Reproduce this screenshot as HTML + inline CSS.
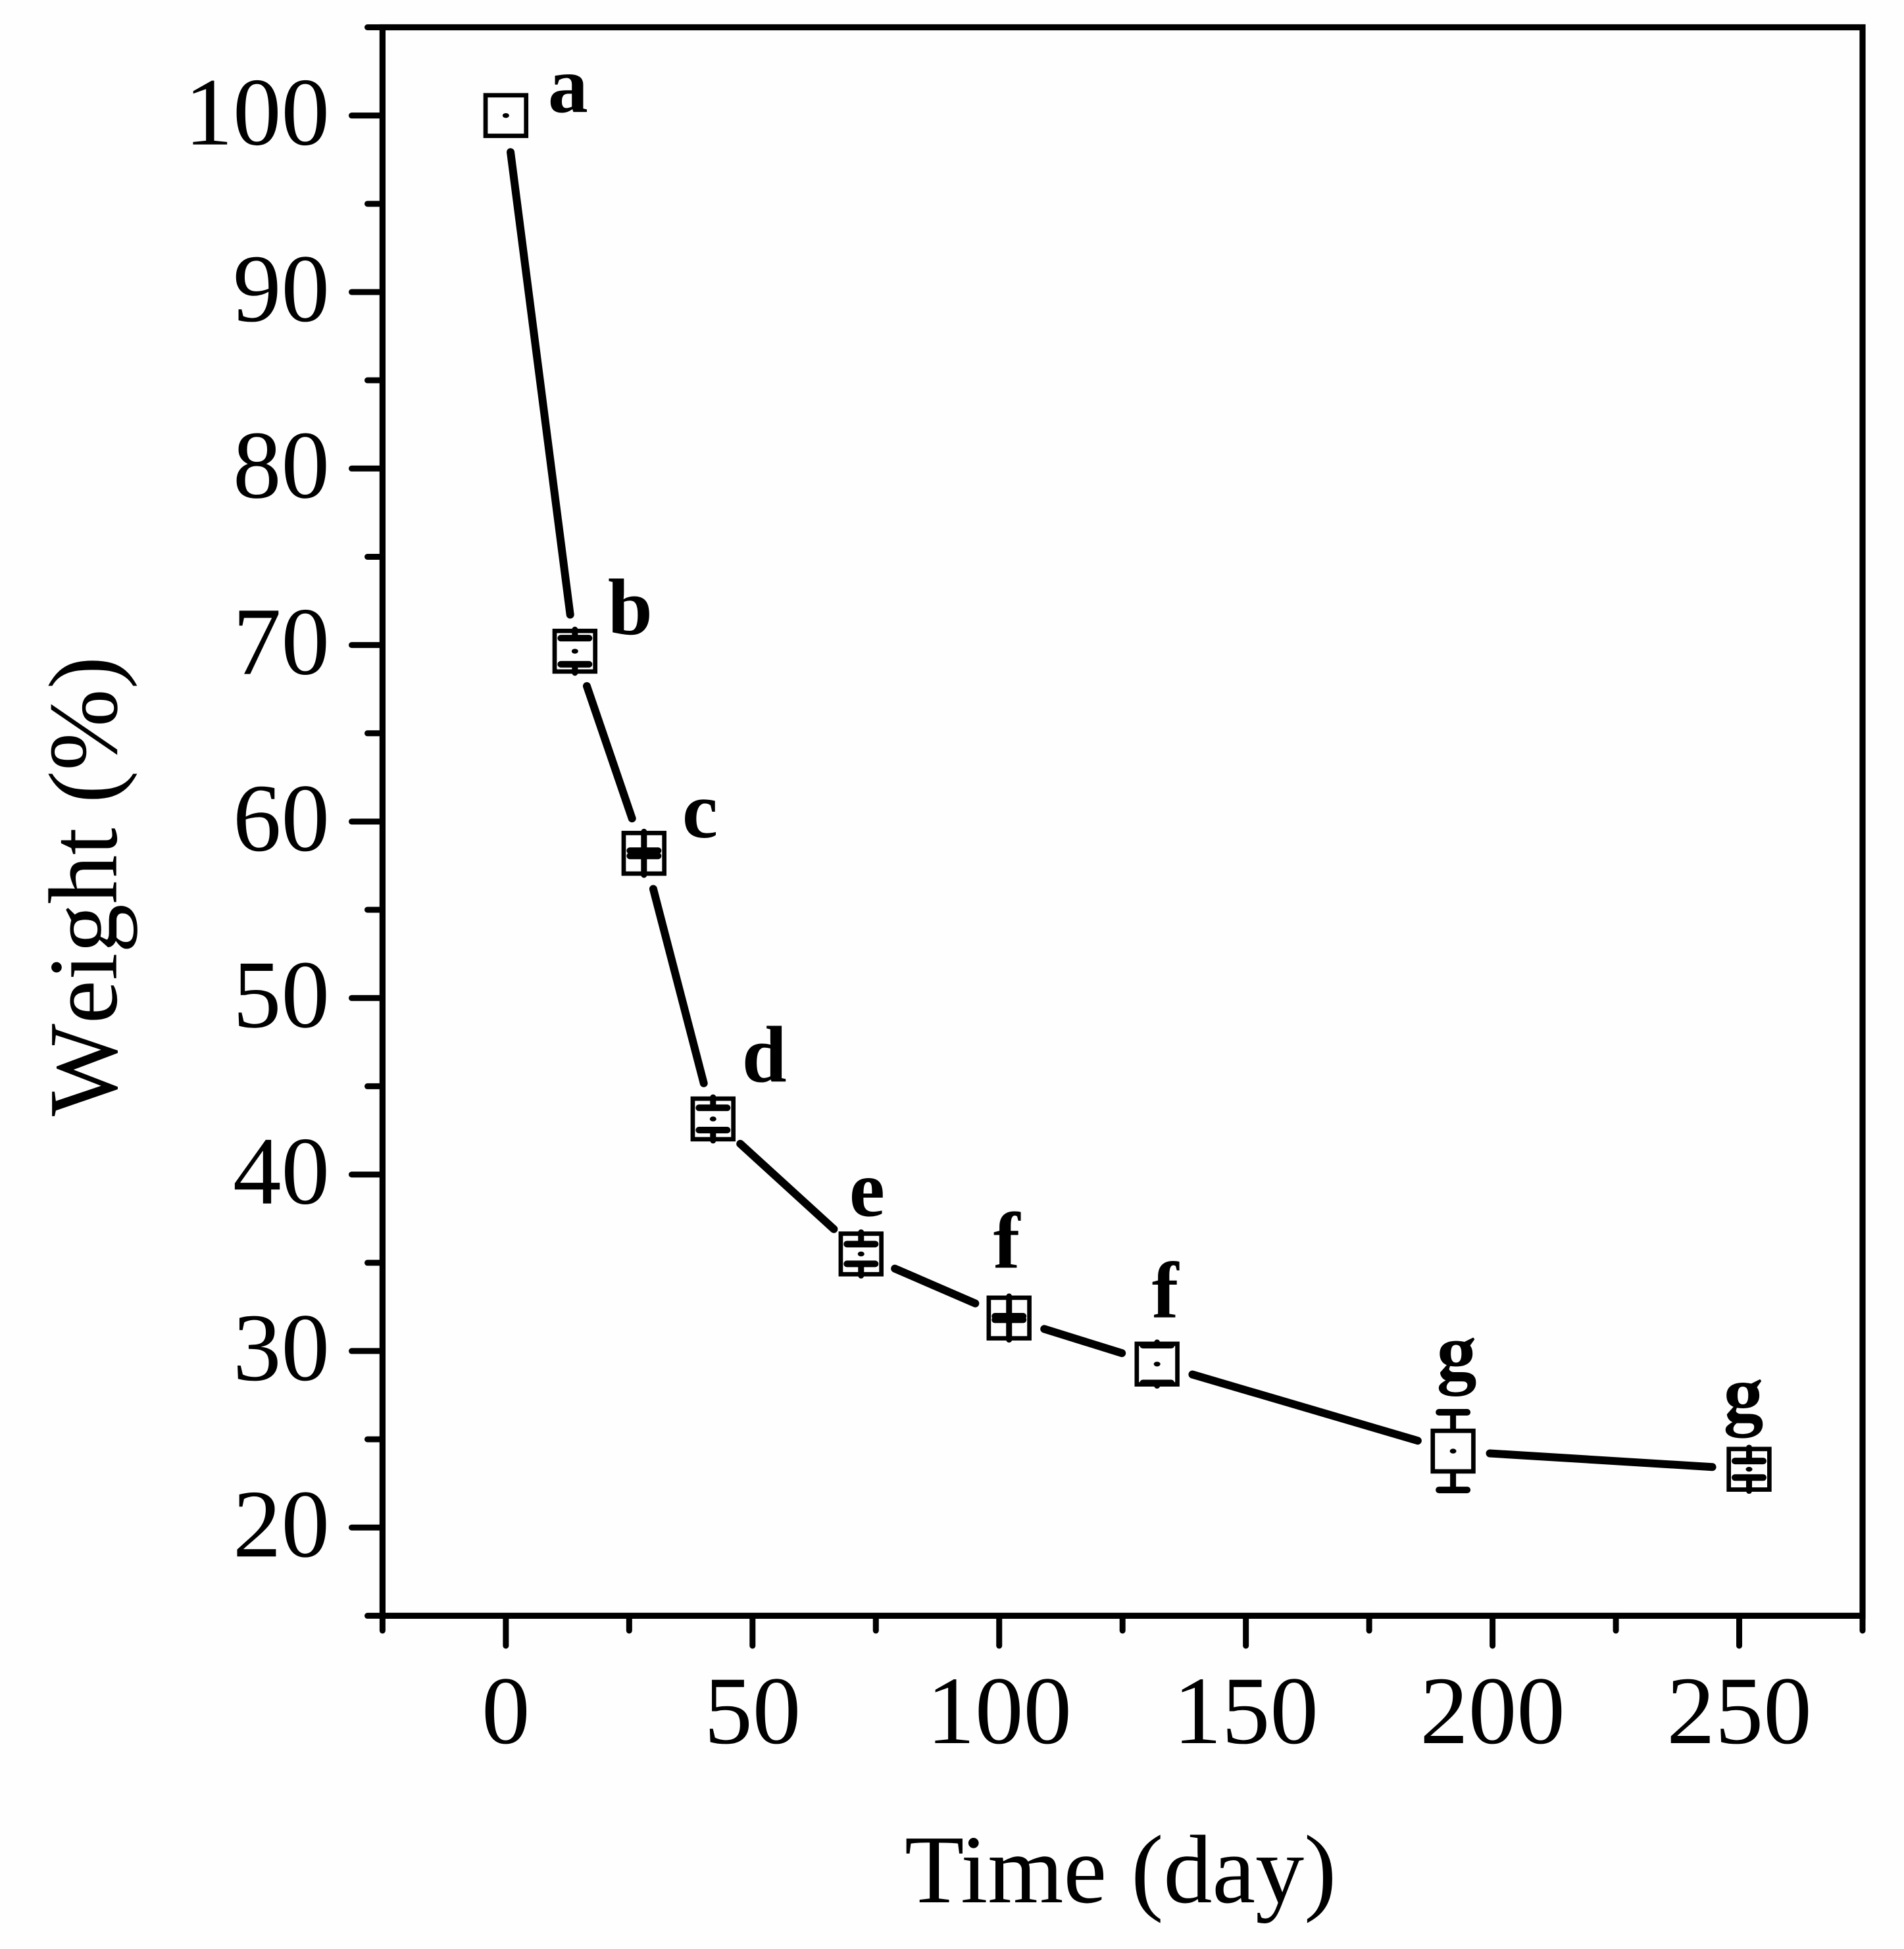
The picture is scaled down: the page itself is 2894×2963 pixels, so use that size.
<!DOCTYPE html>
<html lang="en">
<head>
<meta charset="utf-8">
<title>Weight (%) versus Time (day)</title>
<style>
  html, body { margin: 0; padding: 0; background: #fefefe; }
  svg { display: block; }
  text { font-family: "Liberation Serif", "Times New Roman", serif; fill: #000; }
  .tick-text { font-size: 147px; }
  .axis-title { font-size: 148px; }
  .y-title { font-size: 149px; font-kerning: none; }
  .letter { font-size: 122px; font-weight: bold; }
</style>
</head>
<body>
<svg id="chart" xmlns="http://www.w3.org/2000/svg" width="2894" height="2963" viewBox="0 0 2894 2963">
  <rect x="0" y="0" width="2894" height="2963" fill="#fefefe"/>
  <g id="frame"></g>
  <g id="y-axis"></g>
  <g id="x-axis"></g>
  <g id="series-line"></g>
  <g id="points"></g>
  <g id="letters">
    <text class="letter" data-dx="64" data-dy="-5">a</text>
    <text class="letter" data-dx="50" data-dy="-26">b</text>
    <text class="letter" data-dx="58" data-dy="-24">c</text>
    <text class="letter" data-dx="44" data-dy="-57">d</text>
    <text class="letter" data-dx="-18" data-dy="-58">e</text>
    <text class="letter" data-dx="-24" data-dy="-76">f</text>
    <text class="letter" data-dx="-8" data-dy="-71">f</text>
    <text class="letter" data-dx="-25" data-dy="-110">g</text>
    <text class="letter" data-dx="-39" data-dy="-74">g</text>
  </g>
  <text class="axis-title" x="1375" y="2892">Time (day)</text>
  <text class="y-title" transform="translate(176.7,1697) rotate(-90)">Weight (%)</text>
</svg>
<script>
const days = [0, 14, 28, 42, 72, 102, 132, 192, 252];
const weights = [100, 69.65, 58.2, 43.15, 35.5, 31.87, 29.26, 24.33, 23.3];
const errors = [0, 0.74, 0.15, 0.63, 0.56, 0.1, 1.07, 2.2, 0.47];
const xMajorTicks = [0, 50, 100, 150, 200, 250];
const xMinorTicks = [-25, 25, 75, 125, 175, 225, 275];
const yMajorTicks = [20, 30, 40, 50, 60, 70, 80, 90, 100];
const yMinorTicks = [15, 25, 35, 45, 55, 65, 75, 85, 95, 105];

const NS = 'http://www.w3.org/2000/svg';
const X_MIN = -25, X_MAX = 275, Y_MIN = 15, Y_MAX = 105;
const LEFT = 581.4, RIGHT = 2831, TOP = 41.5, BOTTOM = 2456.4;
const MARKER_SIZE = 61.7, GAP = 56;

function xScale(v) { return LEFT + (v - X_MIN) * (RIGHT - LEFT) / (X_MAX - X_MIN); }
function yScale(v) { return BOTTOM - (v - Y_MIN) * (BOTTOM - TOP) / (Y_MAX - Y_MIN); }

function make(parent, tag, attrs) {
  const el = document.createElementNS(NS, tag);
  for (const k in attrs) el.setAttribute(k, attrs[k]);
  parent.appendChild(el);
  return el;
}
function line(parent, x1, y1, x2, y2, width, cap) {
  return make(parent, 'line', { x1: x1, y1: y1, x2: x2, y2: y2, stroke: '#000', 'stroke-width': width, 'stroke-linecap': cap || 'butt' });
}

const frame = document.getElementById('frame');
const yAxisGroup = document.getElementById('y-axis');
const xAxisGroup = document.getElementById('x-axis');
const lineGroup = document.getElementById('series-line');
const pointGroup = document.getElementById('points');

/* frame */
const frameRect = make(frame, 'rect', { x: LEFT, y: TOP, width: RIGHT - LEFT, height: BOTTOM - TOP, fill: 'none', stroke: '#000', 'stroke-width': 9.2 });



/* y axis */
yMajorTicks.forEach(function (v) {
  const t = line(yAxisGroup, 534.5, yScale(v), LEFT, yScale(v), 9, 'round');
  
  
  const label = make(yAxisGroup, 'text', { x: 501, y: yScale(v) + 44, 'text-anchor': 'end', 'class': 'tick-text' });
  label.textContent = String(v);
  
  
});
yMinorTicks.forEach(function (v) {
  const t = line(yAxisGroup, 558.5, yScale(v), LEFT, yScale(v), 9, 'round');
  
  
});

/* x axis */
xMajorTicks.forEach(function (v) {
  const t = line(xAxisGroup, xScale(v), BOTTOM, xScale(v), 2502, 9, 'round');
  
  
  const label = make(xAxisGroup, 'text', { x: xScale(v), y: 2650, 'text-anchor': 'middle', 'class': 'tick-text' });
  label.textContent = String(v);
  
  
});
xMinorTicks.forEach(function (v) {
  const t = line(xAxisGroup, xScale(v), BOTTOM, xScale(v), 2479, 9, 'round');
  
  
});

/* connecting line with gaps around markers */
for (let i = 0; i < days.length - 1; i++) {
  const x1 = xScale(days[i]), y1 = yScale(weights[i]);
  const x2 = xScale(days[i + 1]), y2 = yScale(weights[i + 1]);
  const len = Math.hypot(x2 - x1, y2 - y1);
  const ux = (x2 - x1) / len, uy = (y2 - y1) / len;
  const seg = line(lineGroup, x1 + ux * GAP, y1 + uy * GAP, x2 - ux * GAP, y2 - uy * GAP, 12, 'round');
  
  
}

/* markers and error bars */
days.forEach(function (d, i) {
  const px = xScale(d), py = yScale(weights[i]);
  const half = MARKER_SIZE / 2;
  const g = make(pointGroup, 'g', {});
  
  
  const box = make(g, 'rect', { x: px - half, y: py - half, width: MARKER_SIZE, height: MARKER_SIZE, fill: 'none', stroke: '#000', 'stroke-width': 6.7 });
  
  
  const dot = make(g, 'ellipse', { cx: px, cy: py, rx: 5, ry: 3.7, fill: '#000' });
  
  
  if (errors[i] > 0) {
    const hi = yScale(weights[i] + errors[i]);
    const lo = yScale(weights[i] - errors[i]);
    const stemUp = line(g, px, py - half - 2, px, hi, 9, 'round');
    
    
    const stemDown = line(g, px, py + half + 2, px, lo, 9, 'round');
    
    
    const capUp = line(g, px - 21.5, hi, px + 21.5, hi, 10, 'round');
    
    
    const capDown = line(g, px - 21.5, lo, px + 21.5, lo, 10, 'round');
    
    
  }
});

/* significance letters stay attached to their points */
document.querySelectorAll('#letters text').forEach(function (el, i) {
  el.setAttribute('x', xScale(days[i]) + Number(el.getAttribute('data-dx')));
  el.setAttribute('y', yScale(weights[i]) + Number(el.getAttribute('data-dy')));
});
</script>
</body>
</html>
